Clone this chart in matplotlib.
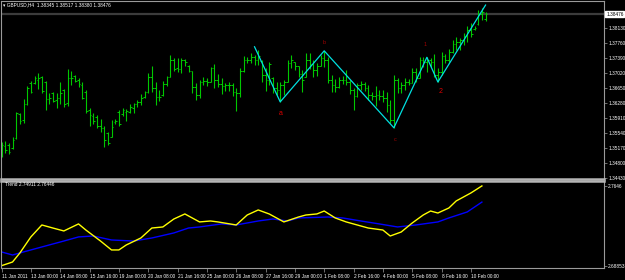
import numpy as np
import matplotlib.pyplot as plt

# GBPUSD H4 bars
highs = [1.3532, 1.3534, 1.3529, 1.3544, 1.3606, 1.3603, 1.3637, 1.3670, 1.3683, 1.3695,
         1.3702, 1.3695, 1.3683, 1.3653, 1.3655, 1.3653, 1.3680, 1.3663, 1.3712, 1.3707,
         1.3697, 1.3690, 1.3680, 1.3660, 1.3616, 1.3603, 1.3598, 1.3588, 1.3571, 1.3556,
         1.3586, 1.3588, 1.3611, 1.3616, 1.3613, 1.3626, 1.3628, 1.3635, 1.3650, 1.3658,
         1.3702, 1.3719, 1.3680, 1.3660, 1.3683, 1.3695, 1.3746, 1.3739, 1.3739, 1.3739,
         1.3737, 1.3722, 1.3707, 1.3678, 1.3685, 1.3692, 1.3690, 1.3717, 1.3724, 1.3700,
         1.3690, 1.3678, 1.3680, 1.3678, 1.3665, 1.3714, 1.3744, 1.3741, 1.3751, 1.3746,
         1.3759, 1.3734, 1.3714, 1.3729, 1.3692, 1.3680, 1.3680, 1.3685, 1.3734, 1.3746,
         1.3729, 1.3719, 1.3709, 1.3751, 1.3751, 1.3734, 1.3727, 1.3746, 1.3756, 1.3741,
         1.3697, 1.3687, 1.3692, 1.3695, 1.3709, 1.3685, 1.3665, 1.3678, 1.3683, 1.3680,
         1.3673, 1.3655, 1.3670, 1.3660, 1.3660, 1.3655, 1.3635, 1.3697, 1.3690, 1.3680,
         1.3690, 1.3687, 1.3714, 1.3714, 1.3741, 1.3741, 1.3741, 1.3739, 1.3749, 1.3714,
         1.3754, 1.3749, 1.3761, 1.3783, 1.3791, 1.3788, 1.3801, 1.3818, 1.3825, 1.3818,
         1.3857, 1.3862, 1.3852]
lows = [1.3495, 1.3505, 1.3502, 1.3514, 1.3539, 1.3576, 1.3579, 1.3623, 1.3653, 1.3675,
        1.3663, 1.3653, 1.3611, 1.3626, 1.3630, 1.3616, 1.3626, 1.3618, 1.3621, 1.3673,
        1.3680, 1.3668, 1.3637, 1.3603, 1.3571, 1.3576, 1.3566, 1.3556, 1.3519, 1.3524,
        1.3544, 1.3576, 1.3571, 1.3596, 1.3584, 1.3603, 1.3603, 1.3618, 1.3623, 1.3640,
        1.3653, 1.3655, 1.3623, 1.3633, 1.3645, 1.3670, 1.3692, 1.3707, 1.3704, 1.3702,
        1.3719, 1.3704, 1.3653, 1.3635, 1.3640, 1.3673, 1.3670, 1.3680, 1.3665, 1.3668,
        1.3650, 1.3658, 1.3658, 1.3645, 1.3608, 1.3643, 1.3704, 1.3727, 1.3727, 1.3722,
        1.3722, 1.3680, 1.3658, 1.3673, 1.3653, 1.3648, 1.3630, 1.3648, 1.3680, 1.3714,
        1.3709, 1.3692, 1.3655, 1.3692, 1.3712, 1.3692, 1.3695, 1.3719, 1.3717, 1.3678,
        1.3655, 1.3655, 1.3665, 1.3675, 1.3673, 1.3650, 1.3611, 1.3643, 1.3660, 1.3658,
        1.3635, 1.3635, 1.3621, 1.3635, 1.3630, 1.3606, 1.3579, 1.3566, 1.3653, 1.3653,
        1.3660, 1.3673, 1.3678, 1.3680, 1.3690, 1.3717, 1.3704, 1.3717, 1.3692, 1.3680,
        1.3697, 1.3727, 1.3729, 1.3751, 1.3759, 1.3759, 1.3771, 1.3778, 1.3791, 1.3808,
        1.3820, 1.3833, 1.3830]
opens = [1.3500, 1.3522, 1.3524, 1.3517, 1.3542, 1.3601, 1.3586, 1.3626, 1.3678, 1.3678,
         1.3685, 1.3692, 1.3680, 1.3637, 1.3653, 1.3635, 1.3640, 1.3660, 1.3628, 1.3690,
         1.3695, 1.3685, 1.3673, 1.3655, 1.3611, 1.3596, 1.3593, 1.3571, 1.3566, 1.3554,
         1.3544, 1.3581, 1.3606, 1.3601, 1.3606, 1.3606, 1.3616, 1.3626, 1.3630, 1.3643,
         1.3655, 1.3692, 1.3665, 1.3643, 1.3648, 1.3675, 1.3692, 1.3734, 1.3714, 1.3712,
         1.3734, 1.3719, 1.3707, 1.3668, 1.3648, 1.3680, 1.3683, 1.3680, 1.3714, 1.3685,
         1.3675, 1.3670, 1.3673, 1.3673, 1.3655, 1.3653, 1.3707, 1.3734, 1.3734, 1.3741,
         1.3734, 1.3732, 1.3697, 1.3685, 1.3690, 1.3665, 1.3660, 1.3673, 1.3680, 1.3727,
         1.3729, 1.3719, 1.3700, 1.3692, 1.3734, 1.3724, 1.3709, 1.3719, 1.3739, 1.3734,
         1.3685, 1.3673, 1.3668, 1.3685, 1.3685, 1.3680, 1.3660, 1.3645, 1.3673, 1.3675,
         1.3665, 1.3648, 1.3645, 1.3648, 1.3645, 1.3640, 1.3623, 1.3586, 1.3685, 1.3665,
         1.3673, 1.3680, 1.3678, 1.3704, 1.3690, 1.3734, 1.3729, 1.3734, 1.3729, 1.3697,
         1.3704, 1.3744, 1.3734, 1.3754, 1.3773, 1.3778, 1.3783, 1.3793, 1.3808, 1.3811,
         1.3823, 1.3848, 1.3835]
closes = [1.3524, 1.3512, 1.3507, 1.3537, 1.3603, 1.3584, 1.3626, 1.3665, 1.3655, 1.3690,
          1.3690, 1.3658, 1.3637, 1.3640, 1.3633, 1.3640, 1.3653, 1.3626, 1.3690, 1.3690,
          1.3683, 1.3675, 1.3640, 1.3608, 1.3598, 1.3584, 1.3571, 1.3566, 1.3537, 1.3529,
          1.3569, 1.3584, 1.3576, 1.3611, 1.3608, 1.3618, 1.3626, 1.3630, 1.3640, 1.3655,
          1.3692, 1.3665, 1.3643, 1.3643, 1.3675, 1.3692, 1.3734, 1.3712, 1.3712, 1.3734,
          1.3729, 1.3707, 1.3668, 1.3648, 1.3680, 1.3683, 1.3680, 1.3714, 1.3685, 1.3675,
          1.3670, 1.3673, 1.3673, 1.3655, 1.3653, 1.3707, 1.3734, 1.3734, 1.3741, 1.3734,
          1.3744, 1.3697, 1.3685, 1.3724, 1.3665, 1.3660, 1.3673, 1.3680, 1.3727, 1.3734,
          1.3719, 1.3700, 1.3685, 1.3734, 1.3724, 1.3709, 1.3719, 1.3739, 1.3734, 1.3685,
          1.3673, 1.3668, 1.3685, 1.3685, 1.3680, 1.3660, 1.3645, 1.3673, 1.3675, 1.3665,
          1.3648, 1.3645, 1.3648, 1.3645, 1.3640, 1.3623, 1.3586, 1.3685, 1.3665, 1.3673,
          1.3680, 1.3678, 1.3704, 1.3690, 1.3734, 1.3729, 1.3734, 1.3729, 1.3697, 1.3704,
          1.3744, 1.3734, 1.3754, 1.3773, 1.3778, 1.3783, 1.3793, 1.3808, 1.3798, 1.3813,
          1.3848, 1.3852, 1.38476]

# zigzag wave points (bar index, price) and labels
zz_idx = [69, 76, 88, 107, 116, 119, 132]
zz_price = [1.3767, 1.3631, 1.3757, 1.3567, 1.3741, 1.3680, 1.3870]
wave_labels = ['', 'a', 'b', 'c', '1', '2', '']

# "Trend" indicator
yellow_idx = [0, 3, 5, 8, 11, 14, 17, 21, 23, 27, 30, 32, 34, 38, 41, 44, 47, 50, 52, 54,
              57, 59, 64, 67, 70, 73, 77, 81, 83, 86, 88, 91, 94, 97, 100, 104, 106, 109,
              112, 115, 117, 119, 122, 124, 128, 131]
yellow_val = [2.6885, 2.6920, 2.7006, 2.7159, 2.7273, 2.7244, 2.7216, 2.7283, 2.7225, 2.7120,
              2.7035, 2.7035, 2.7082, 2.7149, 2.7244, 2.7254, 2.7330, 2.7378, 2.7340, 2.7302,
              2.7311, 2.7302, 2.7273, 2.7368, 2.7416, 2.7378, 2.7302, 2.7349, 2.7368, 2.7378,
              2.7406, 2.7340, 2.7302, 2.7273, 2.7244, 2.7225, 2.7168, 2.7206, 2.7292, 2.7368,
              2.7406, 2.7387, 2.7435, 2.7502, 2.7578, 2.7645]
blue_idx = [0, 3, 6, 12, 17, 21, 25, 30, 36, 41, 47, 51, 54, 60, 64, 70, 74, 78, 81, 89,
            93, 98, 103, 108, 113, 119, 122, 127, 131]
blue_val = [2.7016, 2.6987, 2.7016, 2.7073, 2.7120, 2.7159, 2.7168, 2.7130, 2.7120, 2.7149,
            2.7197, 2.7244, 2.7254, 2.7283, 2.7273, 2.7311, 2.7330, 2.7311, 2.7340, 2.7349,
            2.7340, 2.7311, 2.7283, 2.7254, 2.7273, 2.7302, 2.7340, 2.7397, 2.7491]

price_ticks = [1.38130, 1.37760, 1.37390, 1.37020, 1.36650, 1.36280, 1.35910,
               1.35540, 1.35170, 1.34800, 1.34430]
bid = 1.38476
trend_ticks = [2.7646, 2.68853]

date_idx = [0, 8, 16, 24, 32, 40, 48, 56, 64, 72, 80, 88, 96, 104, 112, 120, 128]
date_labels = ['11 Jan 2011', '13 Jan 00:00', '14 Jan 08:00', '15 Jan 16:00', '19 Jan 00:00',
               '20 Jan 08:00', '21 Jan 16:00', '25 Jan 00:00', '26 Jan 08:00', '27 Jan 16:00',
               '29 Jan 00:00', '1 Feb 08:00', '2 Feb 16:00', '4 Feb 00:00', '5 Feb 08:00',
               '8 Feb 16:00', '10 Feb 00:00']

plt.rcParams['font.family'] = ['Liberation Sans', 'DejaVu Sans']
W, H = 625, 280
fig = plt.figure(figsize=(W / 100, H / 100), dpi=100, facecolor='black')
ax = fig.add_axes([1 / W, (H - 179) / H, 603 / W, 178 / H], facecolor='black')
ax2 = fig.add_axes([1 / W, (H - 268) / H, 603 / W, 87 / H], facecolor='black')

n = len(highs)
x = np.arange(n)
green = '#00c800'
ax.vlines(x, lows, highs, color=green, lw=0.8)
ax.hlines(opens, x - 0.45, x, color=green, lw=0.7)
ax.hlines(closes, x, x + 0.45, color=green, lw=0.7)

ax.axhline(bid, color='#3c3c3c', lw=1.6, zorder=0)

ax.plot(zz_idx, zz_price, color='#00e0e0', lw=0.9)
offs = {'a': (0, -8.5, '#dd0000', 5), 'b': (0, 6, '#a00000', 4), 'c': (1, -8.5, '#a00000', 4),
        '1': (-1, 9, '#a00000', 4), '2': (2, -6.5, '#dd0000', 5)}
for i, p, lab in zip(zz_idx, zz_price, wave_labels):
    if lab:
        dx, dy, col, fs = offs[lab]
        ax.annotate(lab, (i, p), xytext=(dx, dy), textcoords='offset points',
                    ha='center', va='center', color=col, fontsize=fs)

xl = (-0.14, 164.3)
ax.set_xlim(*xl)
ax.set_ylim(1.34406, 1.38800)
ax2.set_xlim(*xl)
ax2.set_ylim(2.6863, 2.7692)

ax2.plot(blue_idx, blue_val, color='#0000ff', lw=1.0)
ax2.plot(yellow_idx, yellow_val, color='#ffff00', lw=1.0)

for a in (ax, ax2):
    for s in a.spines.values():
        s.set_color('#9a9a9a')
        s.set_linewidth(0.8)
    a.yaxis.tick_right()
    a.tick_params(axis='y', colors='#9a9a9a', labelcolor='white', length=2, width=0.5,
                  labelsize=3.4, pad=1)
ax.spines['bottom'].set_linewidth(1.8)
ax2.spines['top'].set_linewidth(1.8)
ax.spines['bottom'].set_color('#b4b4b4')
ax2.spines['top'].set_color('#b4b4b4')

ax.set_xticks([])
ax.set_yticks(price_ticks)
ax.set_yticklabels(['%.5f' % v for v in price_ticks])
ax2.set_yticks(trend_ticks)
ax2.set_yticklabels(['2.7646', '2.68853'])

ax2.set_xticks(date_idx)
ax2.set_xticklabels(date_labels, ha='left')
ax2.tick_params(axis='x', colors='#9a9a9a', labelcolor='white', length=3, width=0.5,
                labelsize=3.4, pad=1)

ax.annotate('%.5f' % bid, (1.0, bid), xycoords=('axes fraction', 'data'),
            xytext=(1.5, 0), textcoords='offset points', va='center', ha='left',
            fontsize=3.4, color='black',
            bbox=dict(boxstyle='square,pad=0.15', fc='white', ec='white'))

fig.text(3 / W, 1 - 5 / H, '\u25be GBPUSD,H4  1.38345 1.38517 1.38380 1.38476', color='white',
         fontsize=3.4, va='center', ha='left')
fig.text(5 / W, 1 - 185 / H, 'Trend 2.74911 2.76446', color='white',
         fontsize=3.4, va='center', ha='left')

fig.savefig('out.png', dpi=100, facecolor='black')
